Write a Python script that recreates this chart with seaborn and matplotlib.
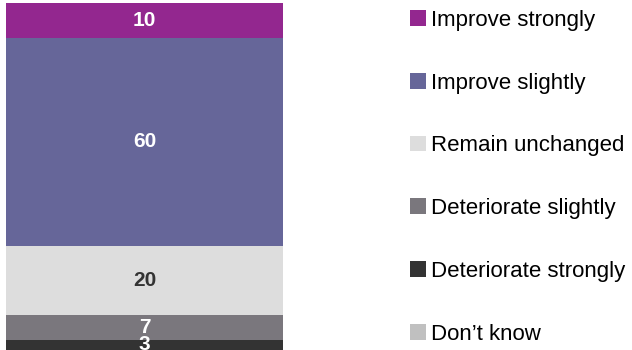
import matplotlib
matplotlib.use("Agg")
import matplotlib.pyplot as plt
from matplotlib.patches import Patch
import seaborn as sns
import pandas as pd

# Survey answers, bottom of the stack first
categories = ["Deteriorate strongly", "Deteriorate slightly", "Remain unchanged",
              "Improve slightly", "Improve strongly", "Don\u2019t know"]
values = [3, 7, 20, 60, 10, 0]
colors = ["#333333", "#7a777d", "#dddddd", "#666699", "#93278f", "#c0c0c0"]
label_colors = ["white", "white", "#333333", "white", "white", "white"]

# Legend lists the answers from the top of the stack down
legend_order = ["Improve strongly", "Improve slightly", "Remain unchanged",
                "Deteriorate slightly", "Deteriorate strongly", "Don\u2019t know"]

sns.set_theme(style="white")
plt.rcParams["font.family"] = ["Liberation Sans", "DejaVu Sans"]

fig = plt.figure(figsize=(6.32, 3.5), dpi=100)
ax = fig.add_axes([6 / 632, 0.0, 277 / 632, 347 / 350])

df = pd.DataFrame({"group": ["all"] * len(values), "answer": categories, "value": values})

bottom = 0
for cat, val, col, lc in zip(categories, values, colors, label_colors):
    sub = df[df["answer"] == cat]
    sns.barplot(data=sub, x="group", y="value", bottom=bottom, color=col,
                width=1.0, saturation=1, ax=ax, edgecolor="none", linewidth=0)
    if val > 0:
        ax.text(0, bottom + val / 2, str(val), ha="center", va="center",
                color=lc, fontsize=15, fontweight="bold")
    bottom += val

ax.set_xlim(-0.5, 0.5)
ax.set_ylim(0, 100)
ax.axis("off")

color_map = dict(zip(categories, colors))
handles = [Patch(facecolor=color_map[c], edgecolor="none", label=c) for c in legend_order]
fig.legend(handles=handles, loc="upper left", bbox_to_anchor=(402 / 632, 348 / 350),
           frameon=False, fontsize=16, handlelength=0.72, handleheight=0.72,
           handletextpad=0.22, labelspacing=1.88, borderaxespad=0.15,
           borderpad=0.2, labelcolor="black")

fig.savefig("out.png", dpi=100)
